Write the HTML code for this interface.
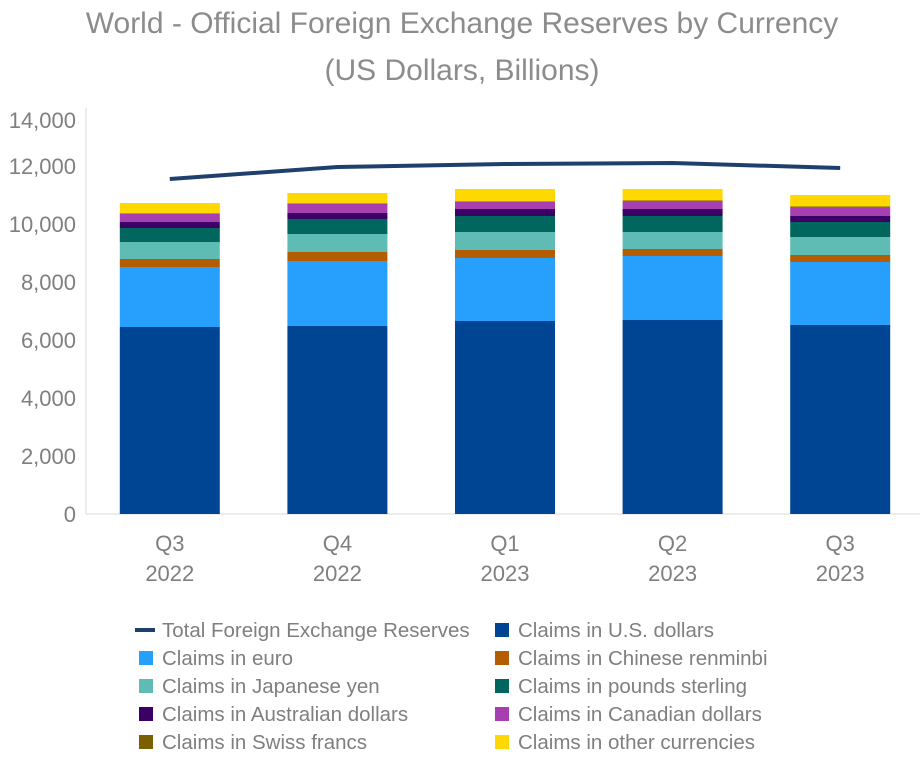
<!DOCTYPE html>
<html><head><meta charset="utf-8">
<style>
body{margin:0;background:#fff;width:923px;height:756px;overflow:hidden;font-family:"Liberation Sans",sans-serif;}
svg text{font-family:"Liberation Sans",sans-serif;}
</style></head>
<body>
<svg id="chart" width="923" height="756" viewBox="0 0 923 756">
<text x="462" y="33" text-anchor="middle" font-size="30" fill="#8c8c8c">World - Official Foreign Exchange Reserves by Currency</text>
<text x="462" y="80" text-anchor="middle" font-size="30" fill="#8c8c8c">(US Dollars, Billions)</text>
<g id="plot"></g>
<g id="legend"></g>
</svg>
<script>
const quarters = ["Q3","Q4","Q1","Q2","Q3"];
const years = ["2022","2022","2023","2023","2023"];
const usd = [6448,6483,6655,6690,6517];
const eur = [2069,2241,2173,2207,2173];
const cny = [276,310,275,241,241];
const jpy = [586,621,621,586,621];
const gbp = [483,517,552,552,517];
const aud = [207,207,241,241,207];
const cad = [276,311,242,276,310];
const chf = [20,20,20,20,20];
const other = [359,359,428,394,394];
const total = [11552,11966,12069,12103,11931];
const yTicks = [0,2000,4000,6000,8000,10000,12000,14000];

const NS="http://www.w3.org/2000/svg";
const plot=document.getElementById('plot'), legend=document.getElementById('legend');
const y0=514, ppu=0.029, x0=86, slot=167.6, bw=100;
const yS=v=>y0-v*ppu;
const xC=i=>x0+slot*(i+0.5);
function el(t,a,p){const e=document.createElementNS(NS,t);for(const k in a)e.setAttribute(k,a[k]);p.appendChild(e);return e;}

const series=[
 {n:"Claims in U.S. dollars",d:usd,c:"#004494",k:"usd"},
 {n:"Claims in euro",d:eur,c:"#26a0fc",k:"euro"},
 {n:"Claims in Chinese renminbi",d:cny,c:"#b35c00",k:"cny"},
 {n:"Claims in Japanese yen",d:jpy,c:"#5fbcb5",k:"jpy"},
 {n:"Claims in pounds sterling",d:gbp,c:"#00665e",k:"gbp"},
 {n:"Claims in Australian dollars",d:aud,c:"#3a0066",k:"aud"},
 {n:"Claims in Canadian dollars",d:cad,c:"#a83fb0",k:"cad"},
 {n:"Claims in Swiss francs",d:chf,c:"#7a6000",k:"chf"},
 {n:"Claims in other currencies",d:other,c:"#ffd800",k:"other"}
];

let ax=el('line',{x1:x0,y1:108,x2:x0,y2:y0,stroke:"#d9d9d9","stroke-width":1},plot);


let bx=el('line',{x1:x0,y1:y0,x2:920,y2:y0,stroke:"#d9d9d9","stroke-width":1},plot);


yTicks.forEach(v=>{
 const yy = v===14000 ? yS(v)+12 : yS(v);
 const t=el('text',{x:76,y:yy+8,"text-anchor":"end","font-size":22,fill:"#7f7f7f"},plot);
 t.textContent=v.toLocaleString('en-US');
 
 
});
quarters.forEach((q,i)=>{
 let acc=0;
 series.forEach(s=>{
  const v=s.d[i];
  const r=el('rect',{x:xC(i)-bw/2,y:yS(acc+v),width:bw,height:v*ppu,fill:s.c},plot);
  
  
  acc+=v;
 });
 const t1=el('text',{x:xC(i),y:551,"text-anchor":"middle","font-size":22,fill:"#7f7f7f"},plot);
 t1.textContent=q;
 
 
 const t2=el('text',{x:xC(i),y:581,"text-anchor":"middle","font-size":22,fill:"#7f7f7f"},plot);
 t2.textContent=years[i];
 
 
});
const line=el('polyline',{points:total.map((v,i)=>xC(i)+","+yS(v)).join(" "),fill:"none",stroke:"#1f3f6e","stroke-width":4},plot);



const items=[{n:"Total Foreign Exchange Reserves",c:"#1f3f6e",line:true,k:"total"}].concat(series);
items.forEach((it,j)=>{
 const col=j%2,row=Math.floor(j/2);
 const sx=col?491:135, ty=630+row*28;
 const g=el('g',{},legend);
 
 
 if(it.line) el('line',{x1:sx,y1:ty,x2:sx+20,y2:ty,stroke:it.c,"stroke-width":4},g);
 else el('rect',{x:sx+4,y:ty-7,width:14,height:14,fill:it.c},g);
 const t=el('text',{x:sx+27,y:ty+7,"font-size":20.5,fill:"#7f7f7f"},g);
 t.textContent=it.n;
});
</script>
</body></html>
